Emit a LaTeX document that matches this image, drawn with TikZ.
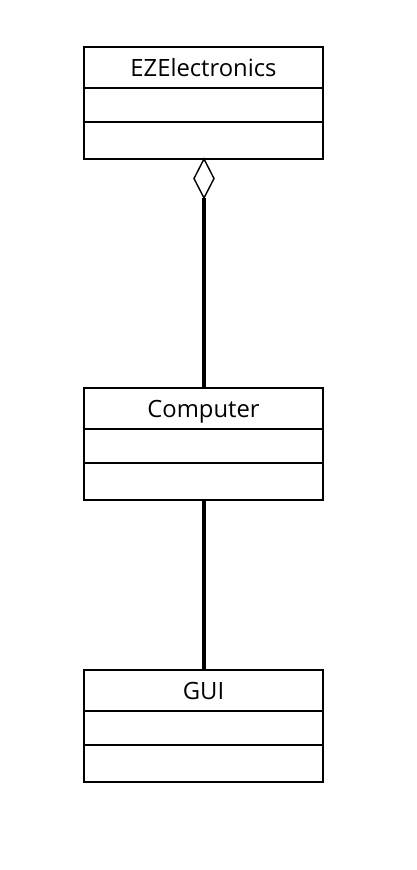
\documentclass[tikz,border=0pt]{standalone}
\usepackage{fontspec}
\setmainfont{Open Sans}
\begin{document}
\begin{tikzpicture}[x=1pt,y=-1pt,
  outer/.style={draw=black,line width=2.2pt,fill=white},
  divider/.style={draw=black,line width=1.4pt},
  conn/.style={draw=black,line width=3.2pt},
  lbl/.style={font=\fontsize{23.8}{28}\selectfont,inner sep=0pt,anchor=base}]
\useasboundingbox[fill=white] (0,0) rectangle (416,870);
% class boxes
\foreach \n/\t/\y in {ez/EZElectronics/47,comp/Computer/388,gui/GUI/670}{
  \draw[outer] (84,\y) rectangle (323,\y+112);
  \draw[divider] (84,\y+41) -- (323,\y+41);
  \draw[divider] (84,\y+75) -- (323,\y+75);
  \node[lbl] (\n-label) at (203.5,\y+29) {\t};
  \coordinate (\n-top) at (204,\y);
  \coordinate (\n-bot) at (204,\y+112);
}
% diamond
\coordinate (dtip) at (204,198);
\draw[conn] (dtip) -- (comp-top);
\draw[conn] (comp-bot) -- (gui-top);
\draw[black,line width=1.4pt,fill=white,line join=miter] (ez-bot) -- (214,178.5) -- (dtip) -- (194,178.5) -- cycle;
\end{tikzpicture}
\end{document}
